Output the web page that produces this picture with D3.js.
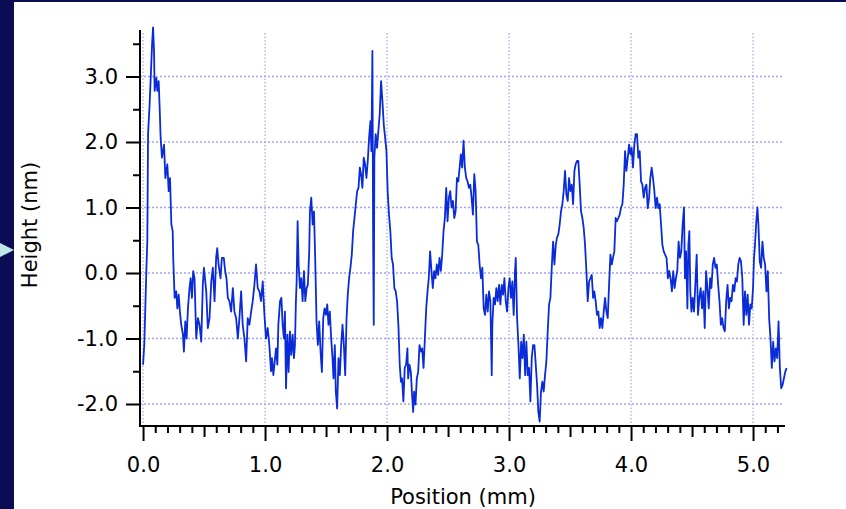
<!DOCTYPE html>
<html>
<head>
<meta charset="utf-8">
<script src="https://cdn.jsdelivr.net/npm/d3@7"></script>
<style>
  html, body { margin: 0; padding: 0; background: #0c0c54; }
  svg { display: block; }
  text { font-family: "DejaVu Sans", Verdana, sans-serif; fill: #000; }
</style>
</head>
<body>
<svg width="846" height="509"></svg>
<script>
// profile
var positionMm = [
  0.000, 0.010, 0.027, 0.035, 0.041, 0.054, 0.063, 0.074, 0.082, 0.090, 0.095, 0.109, 0.117, 0.128, 0.136, 0.144,
  0.155, 0.172, 0.183, 0.199, 0.210, 0.221, 0.232, 0.243, 0.248, 0.259, 0.272, 0.281, 0.292, 0.302, 0.313, 0.327,
  0.335, 0.346, 0.357, 0.368, 0.381, 0.390, 0.401, 0.411, 0.422, 0.436, 0.450, 0.463, 0.477, 0.490, 0.499, 0.518,
  0.531, 0.545, 0.559, 0.572, 0.586, 0.599, 0.608, 0.619, 0.635, 0.646, 0.662, 0.673, 0.684, 0.695, 0.708, 0.722,
  0.736, 0.749, 0.763, 0.777, 0.790, 0.804, 0.817, 0.831, 0.845, 0.858, 0.872, 0.886, 0.899, 0.913, 0.926, 0.940,
  0.954, 0.967, 0.981, 0.995, 1.008, 1.022, 1.035, 1.049,
  1.057, 1.068, 1.082, 1.090, 1.101, 1.109, 1.123, 1.134, 1.144, 1.155, 1.163, 1.172, 1.183, 1.193, 1.204, 1.215,
  1.226, 1.237, 1.245, 1.253, 1.259, 1.267, 1.275, 1.286, 1.297, 1.308, 1.319, 1.330, 1.341, 1.351, 1.362, 1.368,
  1.379, 1.390, 1.401, 1.411, 1.422, 1.433, 1.444, 1.455, 1.466, 1.477, 1.488, 1.499, 1.510, 1.520, 1.531, 1.542,
  1.553, 1.561, 1.572, 1.580, 1.591, 1.602, 1.613, 1.624, 1.635, 1.646, 1.657, 1.668, 1.678, 1.689, 1.700, 1.711,
  1.722, 1.733, 1.744, 1.755, 1.766, 1.777, 1.787, 1.798, 1.809, 1.820, 1.831, 1.842, 1.853, 1.864, 1.872, 1.880,
  1.886, 1.891, 1.896, 1.907, 1.918, 1.929, 1.940, 1.951, 1.962, 1.973, 1.984, 1.995, 2.005, 2.016, 2.027, 2.038,
  2.049, 2.060, 2.071, 2.082, 2.093, 2.104, 2.114,
  2.123, 2.134, 2.145, 2.156, 2.167, 2.173, 2.184, 2.195, 2.205, 2.214, 2.222, 2.233, 2.244, 2.255, 2.266, 2.277,
  2.288, 2.299, 2.310, 2.321, 2.332, 2.342, 2.353, 2.364, 2.375, 2.386, 2.397, 2.408, 2.419, 2.430, 2.441, 2.452,
  2.463, 2.474, 2.485, 2.496, 2.507, 2.518, 2.529, 2.540, 2.551, 2.562, 2.573, 2.584, 2.595, 2.605, 2.616, 2.627,
  2.638, 2.649, 2.660, 2.671, 2.682, 2.693, 2.704, 2.715, 2.726, 2.737, 2.748, 2.759, 2.770, 2.781, 2.792, 2.803,
  2.814, 2.825, 2.836, 2.847, 2.858, 2.863, 2.874, 2.885, 2.896, 2.907, 2.918, 2.929, 2.940, 2.951, 2.962, 2.973,
  2.984, 2.995, 3.005, 3.016, 3.027, 3.038, 3.049, 3.055, 3.066, 3.077, 3.088, 3.099, 3.110, 3.121, 3.132, 3.142,
  3.153, 3.164, 3.175, 3.186, 3.197,
  3.208, 3.219, 3.230, 3.240, 3.251, 3.262, 3.273, 3.284, 3.295, 3.306, 3.317, 3.328, 3.339, 3.350, 3.361, 3.372,
  3.383, 3.393, 3.404, 3.415, 3.426, 3.437, 3.448, 3.459, 3.470, 3.481, 3.492, 3.503, 3.514, 3.525, 3.536, 3.546,
  3.557, 3.568, 3.579, 3.590, 3.601, 3.612, 3.623, 3.634, 3.645, 3.656, 3.667, 3.678, 3.689, 3.699, 3.710, 3.721,
  3.732, 3.743, 3.754, 3.765, 3.776, 3.787, 3.798, 3.809, 3.820, 3.831, 3.842, 3.852, 3.863, 3.874, 3.885, 3.896,
  3.907, 3.918, 3.929, 3.940, 3.951, 3.962, 3.973, 3.984, 3.995, 4.005, 4.016, 4.027, 4.038, 4.049, 4.060, 4.071,
  4.082, 4.093, 4.104, 4.115, 4.126, 4.137, 4.148, 4.158, 4.169, 4.180, 4.191, 4.202, 4.213, 4.224, 4.235, 4.246,
  4.257, 4.268, 4.279,
  4.291, 4.302, 4.313, 4.324, 4.335, 4.346, 4.357, 4.368, 4.379, 4.390, 4.401, 4.412, 4.423, 4.434, 4.442, 4.451,
  4.462, 4.470, 4.478, 4.486, 4.495, 4.505, 4.516, 4.527, 4.538, 4.549, 4.560, 4.571, 4.582, 4.593, 4.604, 4.615,
  4.626, 4.637, 4.648, 4.659, 4.670, 4.681, 4.692, 4.703, 4.714, 4.725, 4.736, 4.747, 4.758, 4.769, 4.780, 4.791,
  4.802, 4.813, 4.824, 4.835, 4.846, 4.857, 4.868, 4.879, 4.890, 4.901, 4.912, 4.923, 4.934, 4.945, 4.956, 4.967,
  4.978, 4.989, 5.000, 5.008, 5.016, 5.027, 5.036, 5.044, 5.055, 5.066, 5.077, 5.088, 5.099, 5.110, 5.121, 5.132,
  5.143, 5.154, 5.165, 5.176, 5.187, 5.198, 5.209, 5.220, 5.231, 5.242, 5.253, 5.264, 5.275
];
var heightNm = [
  -1.40, -1.10, 0.03, 0.49, 2.12, 2.58, 2.99, 3.49, 3.75, 3.39, 2.78, 2.98, 2.78, 2.93, 2.53, 2.07,
  1.76, 1.96, 1.45, 1.66, 1.25, 1.45, 0.74, 0.64, 0.18, -0.38, -0.28, -0.54, -0.33, -0.59, -0.79, -0.94,
  -1.20, -0.74, -1.00, -0.54, -0.23, -0.08, -0.38, 0.03, -0.08, -1.00, -0.69, -0.79, -1.05, -0.18, 0.08, -0.28,
  -0.84, -0.69, -0.13, 0.08, -0.43, 0.23, 0.38, 0.13, -0.08, 0.23, 0.23, 0.03, -0.08, -0.38, -0.43, -0.59,
  -0.23, -0.59, -0.69, -1.00, -0.69, -0.28, -0.79, -1.00, -1.35, -0.69, -0.79, -0.59, -0.43, -0.18, 0.13, -0.23,
  -0.28, -0.43, -0.13, -0.64, -1.00, -0.84, -1.10, -1.50,
  -1.30, -1.56, -1.30, -1.15, -1.40, -0.79, -0.43, -0.38, -0.79, -1.00, -0.59, -1.76, -0.94, -1.51, -0.89, -1.25,
  -0.94, -1.30, -1.10, -0.43, -0.13, 0.79, 0.13, -0.23, -0.08, -0.43, 0.03, -0.43, -0.23, -0.18, 0.33, 0.94,
  1.15, 0.74, 0.94, 0.23, -0.74, -1.10, -0.74, -1.20, -1.51, -0.69, -0.54, -0.64, -0.48, -0.79, -0.59, -1.00,
  -1.30, -1.61, -1.10, -1.81, -2.07, -1.30, -1.56, -1.10, -0.79, -1.10, -1.56, -0.69, -0.33, -0.08, 0.08, 0.28,
  0.64, 0.84, 1.05, 1.25, 1.30, 1.61, 1.51, 1.30, 1.76, 1.66, 1.45, 1.71, 2.07, 2.32, 1.86, 3.39,
  0.48, -0.79, 1.76, 2.12, 1.91, 2.17, 2.43, 2.93, 2.63, 2.27, 2.07, 1.86, 1.25, 0.89, 0.64, 0.23,
  0.13, -0.23, -0.28, -0.43, -0.79, -1.40, -1.66,
  -1.61, -1.96, -1.45, -1.40, -1.15, -1.61, -1.40, -1.51, -1.86, -2.12, -1.81, -2.01, -1.61, -1.51, -1.10, -1.20,
  -1.15, -1.45, -1.00, -0.54, -0.28, -0.08, 0.33, 0.03, -0.23, 0.03, -0.08, 0.13, -0.03, 0.23, 0.03, 0.28,
  0.64, 0.84, 1.30, 0.79, 1.15, 1.25, 1.00, 1.10, 0.84, 0.94, 1.45, 1.40, 1.61, 1.81, 1.61, 2.02,
  1.61, 1.45, 1.40, 1.30, 1.35, 1.15, 0.89, 1.51, 1.25, 0.48, 0.43, 0.13, -0.08, 0.08, -0.54, -0.64,
  -0.33, -0.59, -0.28, -0.43, -1.56, -0.79, -0.38, -0.48, -0.23, -0.43, -0.18, -0.48, -0.18, -0.33, -0.08, -0.43,
  -0.59, -0.23, -0.08, -0.38, -0.13, -0.64, 0.03, 0.23, -0.69, -1.10, -1.61, -1.05, -1.30, -0.94, -1.56, -1.05,
  -1.56, -1.45, -1.96, -1.30, -1.10,
  -1.10, -1.40, -1.71, -2.12, -2.27, -1.81, -1.66, -1.81, -1.56, -1.35, -0.89, -0.48, -0.38, 0.08, 0.48, 0.13,
  0.43, 0.54, 0.59, 0.74, 0.94, 1.05, 1.25, 1.56, 1.20, 1.10, 1.45, 1.25, 1.35, 1.05, 1.56, 1.66,
  1.71, 1.71, 1.35, 0.94, 0.84, 0.69, 0.43, 0.03, -0.43, -0.13, -0.08, -0.03, -0.38, -0.28, -0.43, -0.64,
  -0.59, -0.84, -0.69, -0.84, -0.59, -0.38, -0.59, -0.69, -0.18, 0.28, 0.13, 0.23, 0.33, 0.84, 0.79, 0.84,
  0.89, 1.00, 1.05, 1.35, 1.86, 1.56, 1.76, 1.96, 1.81, 1.91, 1.61, 1.96, 2.12, 2.12, 1.76, 1.86,
  1.40, 1.35, 1.15, 1.30, 1.35, 0.99, 1.15, 1.45, 1.61, 1.45, 1.25, 0.99, 1.15, 0.99, 1.05, 0.74,
  0.43, 0.33, 0.28,
  0.23, -0.08, 0.03, -0.08, -0.28, 0.03, -0.23, -0.08, 0.03, 0.48, 0.23, 0.33, 0.74, 1.00, -0.08, 0.33,
  -0.54, 0.43, 0.64, -0.28, -0.59, -0.38, -0.59, -0.18, 0.28, -0.64, -0.38, -0.23, -0.54, -0.28, -0.84, 0.03,
  -0.23, -0.54, -0.08, -0.23, 0.13, 0.23, 0.08, 0.13, -0.18, -0.43, -0.79, -0.69, -0.84, -0.89, -0.43, -0.18,
  -0.54, -0.38, -0.43, -0.18, -0.28, -0.08, -0.13, 0.13, 0.23, 0.18, -0.08, -0.79, -0.28, -0.64, -0.33, -0.79,
  -0.48, -0.54, -0.23, 0.23, 0.43, 0.79, 1.00, 0.74, 0.18, 0.08, 0.48, 0.23, 0.13, -0.28, 0.03, -0.69,
  -1.00, -1.45, -1.05, -1.35, -1.15, -1.30, -0.74, -1.45, -1.76, -1.71, -1.61, -1.51, -1.45
];
var xMajor = [0, 1, 2, 3, 4, 5];
var yMajor = [-2, -1, 0, 1, 2, 3];
var xTitle = "Position (mm)";
var yTitle = "Height (nm)";

var svg = d3.select("svg");

// white panel inside the dark frame
svg.append("rect").attr("x", 14).attr("y", 2).attr("width", 832).attr("height", 507).attr("fill", "#fff");
svg.append("path").attr("d", "M0,243L14,250L0,257Z").attr("fill", "#bfe6e6");

var x = d3.scaleLinear().domain([-0.025, 5.262]).range([140, 785]);
var y = d3.scaleLinear().domain([-2.336, 3.71]).range([426, 30]);

// dotted grid
svg.append("g").selectAll("line").data(xMajor).enter().append("line")
  .attr("x1", d => x(d)).attr("x2", d => x(d))
  .attr("y1", 33).attr("y2", 426)
  .attr("stroke", "#8f8ff2").attr("stroke-width", 1).attr("stroke-dasharray", "1.5,2");
svg.append("g").selectAll("line").data(yMajor).enter().append("line")
  .attr("x1", 140).attr("x2", 784)
  .attr("y1", d => y(d)).attr("y2", d => y(d))
  .attr("stroke", "#a3a3f5").attr("stroke-width", 1.3).attr("stroke-dasharray", "2,2");

// profile
var line = d3.line().x(d => x(d[0])).y(d => y(d[1]));
svg.append("path")
  .datum(d3.zip(positionMm, heightNm))
  .attr("d", line)
  .attr("fill", "none")
  .attr("stroke", "#0a2bd8")
  .attr("stroke-width", 1.8)
  .attr("stroke-linejoin", "round");

// minor ticks
var xMinor = d3.range(1, 53).map(i => i / 10).filter(v => Math.abs(v - Math.round(v)) > 1e-6);
var yMinor = d3.range(-1.5, 3.6, 1);

var xMinorAxis = svg.append("g").attr("transform", "translate(0,426)")
  .call(d3.axisBottom(x).tickValues(xMinor).tickSize(7).tickFormat(""));
xMinorAxis.selectAll(".tick line").attr("y2", d => Math.abs(d * 2 - Math.round(d * 2)) < 1e-6 ? 11 : 7);
var yMinorAxis = svg.append("g").attr("transform", "translate(140,0)")
  .call(d3.axisLeft(y).tickValues(yMinor).tickSize(7).tickFormat(""));

// major axes
var xAxis = svg.append("g").attr("transform", "translate(0,426)")
  .call(d3.axisBottom(x).tickValues(xMajor).tickSize(15).tickPadding(16).tickFormat(d => d.toFixed(1)));
var yAxis = svg.append("g").attr("transform", "translate(140,0)")
  .call(d3.axisLeft(y).tickValues(yMajor).tickSize(14).tickPadding(8).tickFormat(d => d.toFixed(1)));

svg.selectAll(".domain").attr("stroke", "#000").attr("stroke-width", 2);
xMinorAxis.select(".domain").remove();
yMinorAxis.select(".domain").remove();
xAxis.select(".domain").attr("d", "M139,0H785");
yAxis.select(".domain").attr("d", "M0,30V427");
svg.selectAll(".tick line").attr("stroke", "#000").attr("stroke-width", 2);
svg.selectAll(".tick text").attr("font-size", 21).attr("font-family", "DejaVu Sans").attr("fill", "#000");

svg.append("text")
  .attr("x", 463).attr("y", 504)
  .attr("text-anchor", "middle").attr("font-size", 21)
  .text(xTitle);
svg.append("text")
  .attr("transform", "translate(37,225) rotate(-90)")
  .attr("text-anchor", "middle").attr("font-size", 21)
  .text(yTitle);
</script>
</body>
</html>
